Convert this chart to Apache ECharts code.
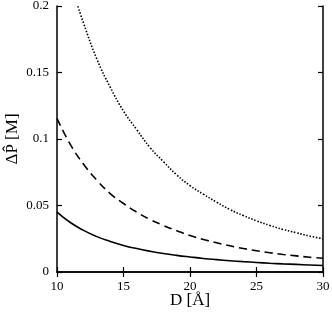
<!DOCTYPE html>
<html>
<head>
<meta charset="utf-8">
<script src="https://cdn.jsdelivr.net/npm/echarts@6/dist/echarts.min.js"></script>
<style>html,body{margin:0;padding:0;background:#fff}#c{width:332px;height:314px}</style>
</head>
<body>
<div id="c"></div>
<script>
// D [Å] sample positions and read-off values
const dSolid = [10,11,12,13,14,15,16,17,18,19,20,21,22,23,24,25,26,27,28,29,30];
const solidVals = [0.045,0.0372,0.0313,0.0266,0.023,0.020,0.0176,0.0156,0.0139,0.0125,0.0113,0.0102,0.0093,0.0085,0.0078,0.0072,0.0066,0.0061,0.0057,0.0053,0.0049];
const dDashed = [10,11,12,13,14,15,16,17,18,19,20,21,22,23,24,25,26,27,28,29,30];
const dashedVals = [0.1155,0.096,0.081,0.069,0.059,0.0515,0.045,0.0395,0.035,0.031,0.0275,0.0245,0.022,0.0197,0.0177,0.016,0.0145,0.0132,0.0121,0.0111,0.0103];
const dDotted = [11.5,12,13,14,15,16,17,18,19,20,21,22,23,24,25,26,27,28,29,30];
const dottedVals = [0.202,0.187,0.160,0.139,0.121,0.107,0.0935,0.083,0.073,0.065,0.0585,0.0525,0.047,0.0425,0.0385,0.035,0.032,0.0295,0.027,0.025];
const xTicks = {min:10, max:30, interval:5};
const yTicks = {min:0, max:0.2, interval:0.05};
const xName = 'D [Å]';
const yName = 'ΔP\u0302 [M]';

const zip = (a,b) => a.map((v,i)=>[v,b[i]]);
const font = "'Liberation Serif', 'Times New Roman', serif";
const axisLine = {show:true, lineStyle:{color:'#000', width:1.5}};
const tick = {show:true, inside:true, length:5, lineStyle:{color:'#000', width:1.2}};
const chart = echarts.init(document.getElementById('c'), null, {renderer:'canvas'});
chart.setOption({
  animation:false,
  backgroundColor:'#fff',
  grid:{left:57, right:9, top:6, bottom:42, containLabel:false, outerBoundsMode:'none'},
  xAxis:[{
    type:'value', min:xTicks.min, max:xTicks.max, interval:xTicks.interval,
    name:xName, nameLocation:'middle', nameGap:20, nameMoveOverlap:false,
    nameTextStyle:{fontFamily:font, fontSize:17, color:'#000'},
    axisLine:axisLine, axisTick:tick, splitLine:{show:false},
    axisLabel:{fontFamily:font, fontSize:13, color:'#000', margin:8}
  },{
    type:'value', position:'top', min:xTicks.min, max:xTicks.max, interval:xTicks.interval,
    axisLine:axisLine, axisTick:tick, splitLine:{show:false}, axisLabel:{show:false}
  }],
  yAxis:[{
    type:'value', min:yTicks.min, max:yTicks.max, interval:yTicks.interval,
    name:yName, nameLocation:'middle', nameGap:36, nameMoveOverlap:false,
    nameTextStyle:{fontFamily:font, fontSize:17, color:'#000'},
    axisLine:axisLine, axisTick:tick, splitLine:{show:false},
    axisLabel:{fontFamily:font, fontSize:13, color:'#000', margin:8}
  },{
    type:'value', position:'right', min:yTicks.min, max:yTicks.max, interval:yTicks.interval,
    axisLine:axisLine, axisTick:tick, splitLine:{show:false}, axisLabel:{show:false}
  }],
  series:[
    {type:'line', data:zip(dSolid, solidVals), smooth:true, symbol:'none', clip:true,
     lineStyle:{color:'#000', width:1.6, type:'solid'}},
    {type:'line', data:zip(dDashed, dashedVals), smooth:true, symbol:'none', clip:true,
     lineStyle:{color:'#000', width:1.6, type:[8,5]}},
    {type:'line', data:zip(dDotted, dottedVals), smooth:true, symbol:'none', clip:true,
     lineStyle:{color:'#000', width:1.6, type:[1.5,1.7]}}
  ]
});
</script>
</body>
</html>
